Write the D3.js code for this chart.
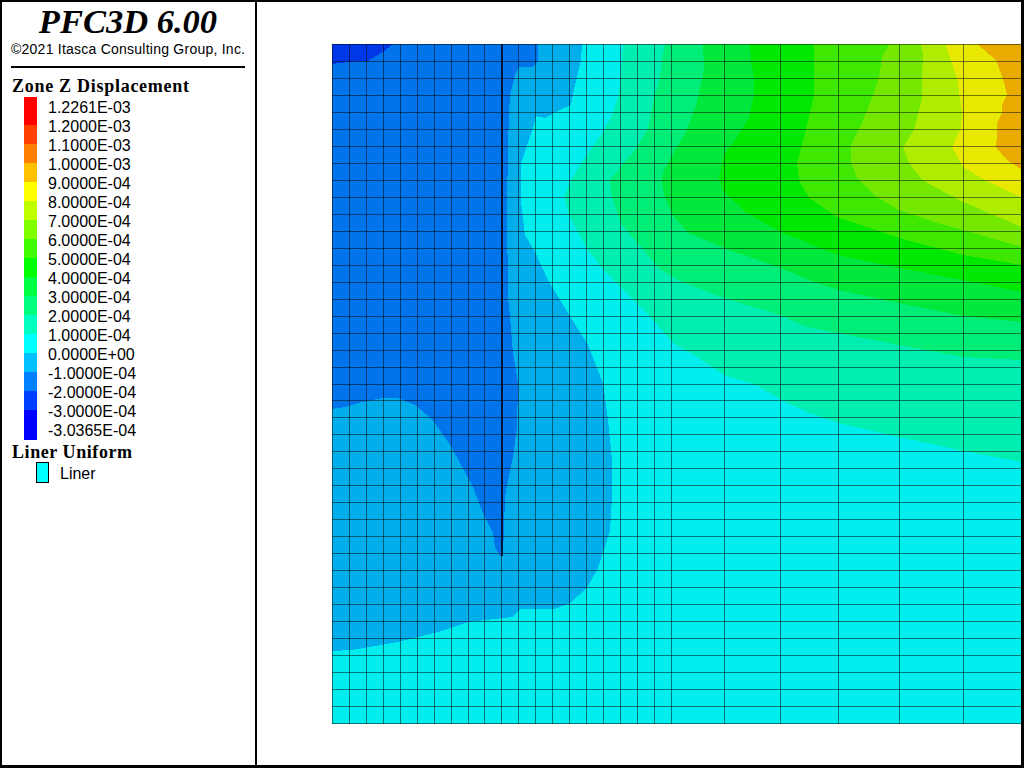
<!DOCTYPE html>
<html>
<head>
<meta charset="utf-8">
<script src="https://cdn.jsdelivr.net/npm/d3@7"></script>
<style>
html,body{margin:0;padding:0;background:#fff;overflow:hidden}
svg{display:block}
.sans{font-family:"Liberation Sans",Arial,sans-serif}
.serif{font-family:"Liberation Serif","Times New Roman",serif}
</style>
</head>
<body>
<svg id="chart" width="1024" height="768"></svg>
<script>
const titleText = "PFC3D 6.00";
const copyrightText = "\u00A92021 Itasca Consulting Group, Inc.";
const legendTitle = "Zone Z Displacement";
const linerTitle = "Liner Uniform";
const linerLabel = "Liner";
const legendLabels = ["1.2261E-03","1.2000E-03","1.1000E-03","1.0000E-03","9.0000E-04","8.0000E-04","7.0000E-04","6.0000E-04","5.0000E-04","4.0000E-04","3.0000E-04","2.0000E-04","1.0000E-04","0.0000E+00","-1.0000E-04","-2.0000E-04","-3.0000E-04","-3.0365E-04"];
const legendColors = ["#ff0000","#ff4000","#ff8000","#ffc000","#ffff00","#c0ff00","#80ff00","#40ff00","#00ff00","#00ff40","#00ff80","#00ffc0","#00ffff","#00c0ff","#0080ff","#0040ff","#0000ff"];

// mesh coordinates (model units, x to the right, depth downward)
const meshX = [0,17,34,51,68,85,102,119,136,152,169,186,203,220,237,254,271,288,305,322,339,392,448,506,567,631];
const meshY = [0,17,34,51,68,85,102,119,136,153,170,187,204,221,238,255,272,289,306,323,340,356,373,390,407,424,441,458,475,492,509,526,543,560,577,594,611,628,645,662,679];
const modelW = 690, modelD = 680;
const linerX = 169, linerDepth = 512;

// contour levels: [x, depth]
const up1 = [[291,0],[289,28],[287,51],[280,71],[271,88],[253,114],[240,134],[232,153],[238,174],[256,206],[270,224],[281,236],[318,273],[341,299],[362,311],[392,331],[424,341],[448,355],[475,368],[506,379],[567,393],[631,407],[690,418]];
const up2 = [[333,0],[330,14],[328,34],[321,58],[316,84],[305,103],[278,136],[280,154],[290,181],[310,204],[326,224],[341,233],[348,237],[392,254],[448,271],[475,283],[506,289],[567,301],[631,313],[690,316]];
const up3 = [[371,0],[372,24],[370,36],[364,61],[354,88],[342,108],[331,128],[330,139],[333,154],[341,171],[355,188],[392,204],[449,224],[477,236],[506,246],[567,259],[631,272],[690,278]];
const up4 = [[418,0],[419,18],[422,34],[422,51],[417,74],[402,98],[392,111],[387,134],[392,148],[415,169],[449,188],[506,211],[567,224],[631,236],[690,248]];
const up5 = [[482,0],[482,24],[482,51],[475,81],[469,104],[465,119],[467,136],[477,154],[505,173],[567,194],[631,211],[690,221]];
const up6 = [[557,0],[550,13],[547,34],[540,54],[530,79],[519,101],[519,119],[525,134],[545,153],[567,166],[602,178],[631,186],[690,203]];
const up7 = [[589,0],[591,11],[590,34],[590,54],[582,86],[571,103],[577,119],[590,136],[631,158],[690,183]];
const up8 = [[613,0],[619,16],[625,34],[630,68],[629,84],[620,103],[631,123],[649,134],[690,154]];
const up9 = [[645,0],[664,16],[672,38],[675,51],[670,61],[670,69],[665,79],[665,91],[664,103],[675,116],[690,126]];
const low1 = [[250,0],[249,16],[243,41],[239,61],[228,66],[213,74],[204,72],[201,84],[193,108],[189,119],[189,158],[193,191],[203,208],[216,236],[236,269],[256,301],[271,339],[276,376],[280,416],[280,453],[278,486],[273,503],[265,526],[255,544],[238,559],[223,565],[188,565],[180,573],[136,578],[106,588],[66,598],[20,606],[0,607]];
const low2 = [[206,0],[206,18],[200,23],[187,23],[183,31],[178,51],[177,71],[176,101],[175,164],[175,198],[176,221],[176,253],[178,273],[181,309],[186,339],[185,383],[181,413],[176,436],[173,453],[172,484],[171,509],[168,512],[163,503],[161,489],[151,469],[141,443],[120,404],[101,376],[83,361],[66,354],[50,354],[30,358],[13,363],[0,365]];
const low3 = [[61,0],[51,8],[36,17],[16,18],[0,20]];

const baseColor = "#00eeee";
const upColors = ["#00eeb2","#00ee78","#00e83c","#00e800","#3ee800","#74e800","#aeec00","#e8e800","#e9ab00"];
const lowColors = ["#00aeec","#0074ea","#0038e8"];
const linerFill = "#00ffff";

const svg = d3.select("#chart");
const x = d3.scaleLinear().domain([0, modelW]).range([332, 1022]);
const y = d3.scaleLinear().domain([0, modelD]).range([44, 724]);
const line = d3.line().x(d => x(d[0])).y(d => y(d[1])).curve(d3.curveLinear);

const plot = svg.append("g");
plot.append("rect").attr("x", x(0)).attr("y", y(0))
  .attr("width", x(modelW) - x(0)).attr("height", y(meshY[meshY.length-1]) - y(0) + 1)
  .attr("fill", baseColor);

const upLevels = [up1,up2,up3,up4,up5,up6,up7,up8,up9];
plot.selectAll("path.up").data(upLevels).join("path").attr("class","up")
  .attr("d", d => line(d.concat([[modelW,0]])) + "Z")
  .attr("fill", (d,i) => upColors[i])
  .attr("shape-rendering","crispEdges");
const lowLevels = [low1,low2,low3];
plot.selectAll("path.low").data(lowLevels).join("path").attr("class","low")
  .attr("d", d => line(d.concat([[0,0]])) + "Z")
  .attr("fill", (d,i) => lowColors[i])
  .attr("shape-rendering","crispEdges");

const lineColor = "#000", lineOp = 0.5;
plot.selectAll("line.mx").data(meshX).join("line").attr("class","mx")
  .attr("x1", d => x(d)+0.5).attr("x2", d => x(d)+0.5)
  .attr("y1", y(0)).attr("y2", y(meshY[meshY.length-1])+1)
  .attr("stroke", lineColor).attr("stroke-opacity", lineOp).attr("shape-rendering","crispEdges");
plot.selectAll("line.my").data(meshY).join("line").attr("class","my")
  .attr("x1", x(0)).attr("x2", x(modelW))
  .attr("y1", d => y(d)+0.5).attr("y2", d => y(d)+0.5)
  .attr("stroke", lineColor).attr("stroke-opacity", lineOp).attr("shape-rendering","crispEdges");
plot.append("line")
  .attr("x1", x(linerX)+1).attr("x2", x(linerX)+1)
  .attr("y1", y(0)).attr("y2", y(linerDepth))
  .attr("stroke", "#001030").attr("stroke-width", 2).attr("stroke-opacity",0.9)
  .attr("shape-rendering","crispEdges");

// frame
const frame = svg.append("g").attr("fill","#000");
frame.append("rect").attr("x",0).attr("y",0).attr("width",1024).attr("height",2);
frame.append("rect").attr("x",0).attr("y",0).attr("width",2).attr("height",768);
frame.append("rect").attr("x",1021).attr("y",0).attr("width",3).attr("height",768);
frame.append("rect").attr("x",0).attr("y",765).attr("width",1024).attr("height",3);
frame.append("rect").attr("x",255).attr("y",0).attr("width",2).attr("height",768);

// side panel
svg.append("text").attr("class","serif").attr("x",128).attr("y",33).attr("text-anchor","middle")
  .attr("font-size",34.5).attr("font-weight","bold").attr("font-style","italic").text(titleText);
svg.append("text").attr("class","sans").attr("x",11).attr("y",54).attr("font-size",14)
  .attr("textLength",234).attr("lengthAdjust","spacing").text(copyrightText);
svg.append("rect").attr("x",11).attr("y",66).attr("width",234).attr("height",2).attr("fill","#000");
svg.append("text").attr("class","serif").attr("x",12).attr("y",92).attr("font-size",18).attr("font-weight","bold")
  .attr("textLength",177).attr("lengthAdjust","spacing").text(legendTitle);

const legendEdges = [97,125,144,163,182,201,220,239,258,277,296,315,334,353,372,391,410,440];
svg.selectAll("rect.sw").data(legendColors).join("rect").attr("class","sw")
  .attr("x",24).attr("width",13)
  .attr("y",(d,i)=>legendEdges[i]).attr("height",(d,i)=>legendEdges[i+1]-legendEdges[i])
  .attr("fill",d=>d);
const labelY = d3.scalePoint().domain(d3.range(legendLabels.length)).range([113,436]);
svg.selectAll("text.lb").data(legendLabels).join("text").attr("class","lb sans")
  .attr("x",48).attr("y",(d,i)=>labelY(i)).attr("font-size",16).text(d=>d);

svg.append("text").attr("class","serif").attr("x",12).attr("y",458).attr("font-size",18).attr("font-weight","bold")
  .attr("textLength",120).attr("lengthAdjust","spacing").text(linerTitle);
svg.append("rect").attr("x",36.5).attr("y",462.5).attr("width",12).attr("height",20).attr("fill",linerFill).attr("stroke","#000").attr("stroke-width",1);
svg.append("text").attr("class","sans").attr("x",60).attr("y",479).attr("font-size",16).text(linerLabel);
</script>
</body>
</html>
